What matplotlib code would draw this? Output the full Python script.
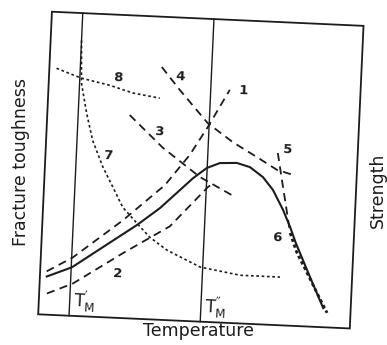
import matplotlib
matplotlib.use('Agg')
import matplotlib.pyplot as plt
from matplotlib.patches import Rectangle
from matplotlib.transforms import Affine2D

plt.rcParams['mathtext.default'] = 'regular'

# Schematic curves: temperature (x) vs toughness / strength (y), both on a 0-100 scale
solid_x = [2.2, 10.1, 30.3, 37.4, 43.5, 47.6, 51.9, 56.0, 61.4, 65.7, 70.0, 73.4, 76.9,
           79.4, 81.5, 86.5, 91.2]
solid_y = [12.6, 16.0, 30.9, 36.8, 43.0, 47.2, 50.8, 52.6, 52.9, 51.7, 48.6, 44.5, 38.1,
           32.6, 27.3, 16.4, 6.3]

c1_x = [2.1, 10.3, 25.8, 38.7, 46.2, 51.6, 58.1]
c1_y = [14.3, 19.3, 32.3, 44.5, 54.8, 64.3, 76.9]

c2_x = [2.5, 10.7, 26.2, 40.9, 52.5, 54.4]
c2_y = [7.0, 10.7, 21.4, 31.0, 44.5, 46.0]

c3_x = [26.4, 37.5, 49.8, 60.3]
c3_y = [67.1, 56.8, 47.7, 42.2]

c4_x = [36.0, 42.1, 51.5, 59.8, 67.8, 74.4, 79.6]
c4_y = [83.4, 76.1, 65.6, 59.7, 55.1, 51.2, 49.8]

c5_x = [74.4, 76.1, 77.4, 79.5]
c5_y = [56.8, 48.0, 41.4, 30.6]

c6_x = [79.5, 82.0, 85.5, 89.0, 92.5]
c6_y = [30.6, 24.1, 17.7, 11.2, 4.8]

c7_x = [9.9, 10.5, 12.6, 14.9, 18.6, 22.1, 25.5, 30.3, 34.6, 40.3, 51.2, 64.1, 76.9]
c7_y = [91.0, 76.9, 67.0, 58.2, 49.5, 43.0, 36.6, 31.5, 27.1, 23.1, 18.0, 15.9, 15.9]

c8_x = [2.3, 10.5, 19.6, 27.1, 35.8]
c8_y = [81.4, 78.5, 76.6, 74.4, 73.1]

tm_positions = [9.9, 52.0]
tm_labels = [r"$T_M^{\prime}$", r"$T_M^{\prime\prime}$"]

curve_labels = ['1', '2', '3', '4', '5', '6', '7', '8']
label_x = [62.3, 24.9, 36.0, 41.9, 77.6, 75.4, 20.0, 22.0]
label_y = [76.7, 14.7, 61.9, 80.4, 58.0, 28.7, 53.2, 79.1]

ink = '#1c1c1c'

fig = plt.figure(figsize=(3.87, 3.45), dpi=100, facecolor='white')
ax = fig.add_axes([0.116, 0.068, 0.806, 0.878])
ax.set_xlim(0, 100)
ax.set_ylim(0, 100)
ax.axis('off')

# the scanned figure is turned slightly clockwise
cx, cy = ax.transAxes.transform((0.5, 0.5))
rot = Affine2D().rotate_deg_around(cx, cy, -2.6)
tr = ax.transData + rot

ax.add_patch(Rectangle((0, 0), 1, 1, transform=ax.transAxes + rot,
                       fill=False, lw=1.3, ec=ink, clip_on=False))

for xpos in tm_positions:
    ax.plot([xpos, xpos], [0, 100], color=ink, lw=1.0, transform=tr, clip_on=False)

dash = (0, (4.5, 3))
dots = (0, (1.6, 1.6))
ax.plot(solid_x, solid_y, color=ink, lw=1.5, transform=tr, clip_on=False)
for xs, ys in [(c1_x, c1_y), (c2_x, c2_y), (c3_x, c3_y), (c4_x, c4_y), (c5_x, c5_y)]:
    ax.plot(xs, ys, color=ink, lw=1.3, ls=dash, transform=tr, clip_on=False)
ax.plot(c6_x, c6_y, color=ink, lw=2.0, ls=(0, (1.2, 1.0)), transform=tr, clip_on=False)
ax.plot(c7_x, c7_y, color=ink, lw=1.2, ls=dots, transform=tr, clip_on=False)
ax.plot(c8_x, c8_y, color=ink, lw=1.2, ls=dots, transform=tr, clip_on=False)

for lab, lx, ly in zip(curve_labels, label_x, label_y):
    ax.text(lx, ly, lab, fontsize=9.5, fontweight='bold', color=ink,
            ha='center', va='center', transform=tr, rotation=-2.6)

for xpos, lab in zip(tm_positions, tm_labels):
    ax.text(xpos + 1.0, 4.5, lab, fontsize=12, color=ink,
            ha='left', va='center', transform=tr, rotation=-2.6)

fig.text(0.054, 0.53, 'Fracture toughness', rotation=90, fontsize=12.5,
         color=ink, ha='center', va='center')
fig.text(0.514, 0.040, 'Temperature', fontsize=12.5, color=ink,
         ha='center', va='center')
fig.text(0.977, 0.449, 'Strength', rotation=90, fontsize=12.5, color=ink,
         ha='center', va='center')

fig.savefig('out.png', dpi=100, facecolor='white')
